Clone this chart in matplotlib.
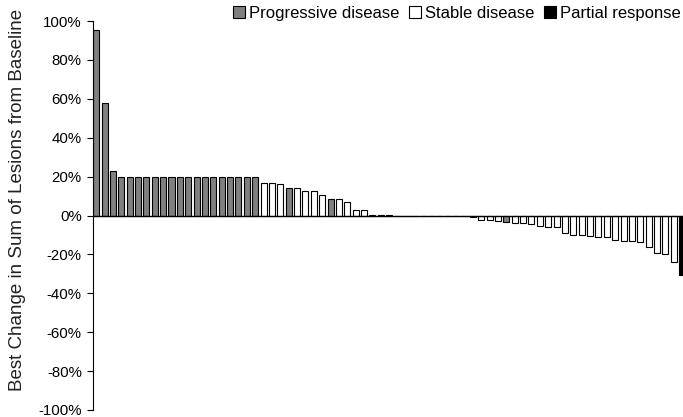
import matplotlib
matplotlib.use('Agg')
from matplotlib import pyplot as plt
from matplotlib.patches import Patch
from matplotlib.ticker import FuncFormatter

plt.rcParams['font.family'] = ['Liberation Sans', 'DejaVu Sans']

# best change per patient, sorted (percent)
change = [95.5, 57.7, 22.9] + [20] * 17 + \
    [16.9, 16.9, 16.0, 14.1, 14.1, 12.6, 12.6, 10.8, 8.6, 8.6, 6.9, 2.9, 2.9, 0.5, 0.5, 0.5] + \
    [0] * 9 + \
    [-1.0, -2.1, -2.1, -2.7, -3.4, -4.0, -4.0, -4.6, -5.2, -5.7, -5.7,
     -9.1, -10.0, -10.0, -10.7, -10.9, -11.2, -12.4, -13.2, -13.2, -13.7,
     -16.3, -19.3, -19.9, -24.1, -30.5]
# P = progressive disease, S = stable disease, R = partial response
response = ['P'] * 20 + ['S', 'S', 'S', 'P', 'S', 'S', 'S', 'S', 'P', 'S', 'S', 'S', 'S', 'S', 'S', 'S'] + \
    ['S'] * 9 + ['S'] * 4 + ['P'] + ['S'] * 20 + ['R']

labels = ['Progressive disease', 'Stable disease', 'Partial response']
colors = {'P': '#808080', 'S': 'white', 'R': 'black'}
yticks = list(range(-100, 101, 20))

fig = plt.figure(figsize=(6.83, 4.17), dpi=100)
ax = fig.add_axes([0.136, 0.0168, 0.864, 0.9328])

x = list(range(len(change)))
ax.bar(x, change, width=0.72, color=[colors[r] for r in response],
       edgecolor='black', linewidth=0.8, zorder=2)
ax.axhline(0, color='black', linewidth=1.0, zorder=3)

ax.set_xlim(-0.39, 70.1)
ax.set_ylim(-100, 100)
ax.set_yticks(yticks)
ax.yaxis.set_major_formatter(FuncFormatter(lambda v, p: '%d%%' % v))
ax.tick_params(axis='y', direction='out', length=4, width=0.8, labelsize=10.8, pad=4, colors='black')
ax.set_xticks([])
for s in ['top', 'right', 'bottom']:
    ax.spines[s].set_visible(False)
ax.spines['left'].set_linewidth(0.8)
ax.set_ylabel('Best Change in Sum of Lesions from Baseline', fontsize=13.5, color='#222222')
ax.yaxis.set_label_coords(-0.114, 0.54)

handles = [Patch(facecolor=colors[k], edgecolor='black', linewidth=0.8) for k in ['P', 'S', 'R']]
fig.legend(handles, labels, loc='center right', bbox_to_anchor=(0.997, 0.968), ncol=3, frameon=False,
           fontsize=12, handlelength=0.7, handleheight=0.7, handletextpad=0.25, columnspacing=0.6,
           borderaxespad=0, borderpad=0)

fig.savefig('out.png', dpi=100)
